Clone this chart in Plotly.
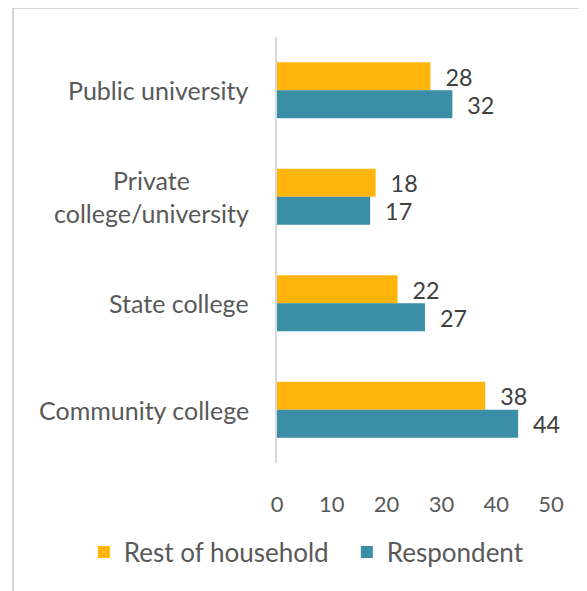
import plotly.graph_objects as go

categories = ["Public university", "Private<br>college/university", "State college", "Community college"]
rest_of_household = [28, 18, 22, 38]
respondent = [32, 17, 27, 44]
x_ticks = [0, 10, 20, 30, 40, 50]

YELLOW = "#FFB50C"
TEAL = "#3A8FA7"
GREY = "#595959"
FONT = "Lato"

fig = go.Figure()
fig.add_trace(go.Bar(
    y=categories, x=rest_of_household, orientation="h", name="Rest of household",
    marker=dict(color=YELLOW, line=dict(width=0)),
    texttemplate="\u00a0\u00a0%{x}", textposition="outside",
    textfont=dict(family=FONT, size=25, color="#404040"),
    cliponaxis=False,
))
fig.add_trace(go.Bar(
    y=categories, x=respondent, orientation="h", name="Respondent",
    marker=dict(color=TEAL, line=dict(width=0)),
    texttemplate="\u00a0\u00a0%{x}", textposition="outside",
    textfont=dict(family=FONT, size=25, color="#404040"),
    cliponaxis=False,
))

for c in categories:
    fig.add_annotation(
        x=0, xref="paper", xanchor="right", xshift=-26,
        y=c, yref="y", yanchor="middle",
        text=c, showarrow=False, align="center",
        font=dict(family=FONT, size=25, color=GREY),
    )

# outer border (light grey frame)
fig.add_shape(type="line", xref="paper", yref="paper",
              x0=-0.9635, x1=1.2, y0=1.068, y1=1.068,
              line=dict(color="#D9D9D9", width=2))
fig.add_shape(type="line", xref="paper", yref="paper",
              x0=-0.9635, x1=-0.9635, y0=1.068, y1=-0.4,
              line=dict(color="#D9D9D9", width=2))

fig.update_layout(
    width=579, height=583,
    margin=dict(l=269, r=36, t=29, b=128, autoexpand=False),
    paper_bgcolor="white", plot_bgcolor="white",
    barmode="group", bargap=0.474, bargroupgap=0,
    showlegend=True,
    legend=dict(orientation="h",
                x=-0.705, xanchor="left", y=-0.209, yanchor="middle",
                font=dict(family=FONT, size=26, color=GREY),
                itemwidth=30, tracegroupgap=0,
                entrywidth=218, entrywidthmode="pixels"),
    xaxis=dict(range=[0, 50], tickvals=x_ticks, showgrid=False, zeroline=False,
               showline=False, ticks="", ticklabelstandoff=26, automargin=False,
               tickfont=dict(family=FONT, size=22, color=GREY), fixedrange=True),
    yaxis=dict(categoryorder="array", categoryarray=categories, autorange="reversed",
               showticklabels=False, showgrid=False, zeroline=False, automargin=False,
               showline=True, linecolor="#D9D9D9", linewidth=2, ticks=""),
    font=dict(family=FONT, color=GREY),
)

fig.write_html("out.html")
